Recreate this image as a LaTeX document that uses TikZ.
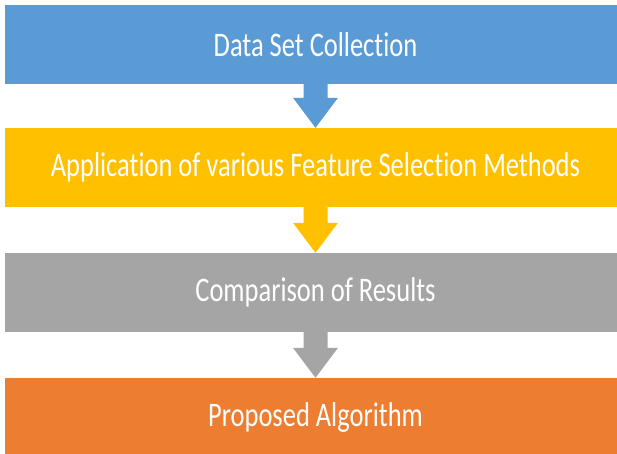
\documentclass[tikz,border=0pt]{standalone}
\usepackage{fontspec}
\setmainfont{Carlito}[Ligatures=NoCommon]
\usepackage{graphicx}
\usetikzlibrary{calc}
\definecolor{cblue}{HTML}{5B9BD5}
\definecolor{cyellow}{HTML}{FFC000}
\definecolor{cgray}{HTML}{A5A5A5}
\definecolor{corange}{HTML}{ED7D31}
\newcommand\talltext[1]{\scalebox{1}[1.3]{#1}}
\newcommand\flowarrow[3]{%
  \fill[#3] ($(#1.south)+(-12,-1)$) -- ($(#1.south)+(12,-1)$)
    -- ($(#2.north)+(12,-30)$) -- ($(#2.north)+(22.5,-30)$)
    -- ($(#2.north)+(0,0)$) -- ($(#2.north)+(-22.5,-30)$)
    -- ($(#2.north)+(-12,-30)$) -- cycle;}
\begin{document}
\begin{tikzpicture}[x=1pt,y=-1pt,
  box/.style={rectangle, inner sep=0pt, minimum width=621pt, minimum height=79pt,
    text=white, font=\fontsize{26.5}{30}\selectfont}]
\useasboundingbox (0,0) rectangle (617,454);
\fill[white] (0,0) rectangle (617,454);
\node[box, fill=cblue] (b1) at (315.5,44.5) {\talltext{Data Set Collection}};
\node[box, fill=cyellow] (b2) at (315.5,167.5) {\talltext{Application of various Feature Selection Methods}};
\node[box, fill=cgray] (b3) at (315.5,292.5) {\talltext{Comparison of Results}};
\node[box, fill=corange] (b4) at (315.5,417.5) {\talltext{Proposed Algorithm}};
\flowarrow{b1}{b2}{cblue}
\flowarrow{b2}{b3}{cyellow}
\flowarrow{b3}{b4}{cgray}
\end{tikzpicture}
\end{document}
